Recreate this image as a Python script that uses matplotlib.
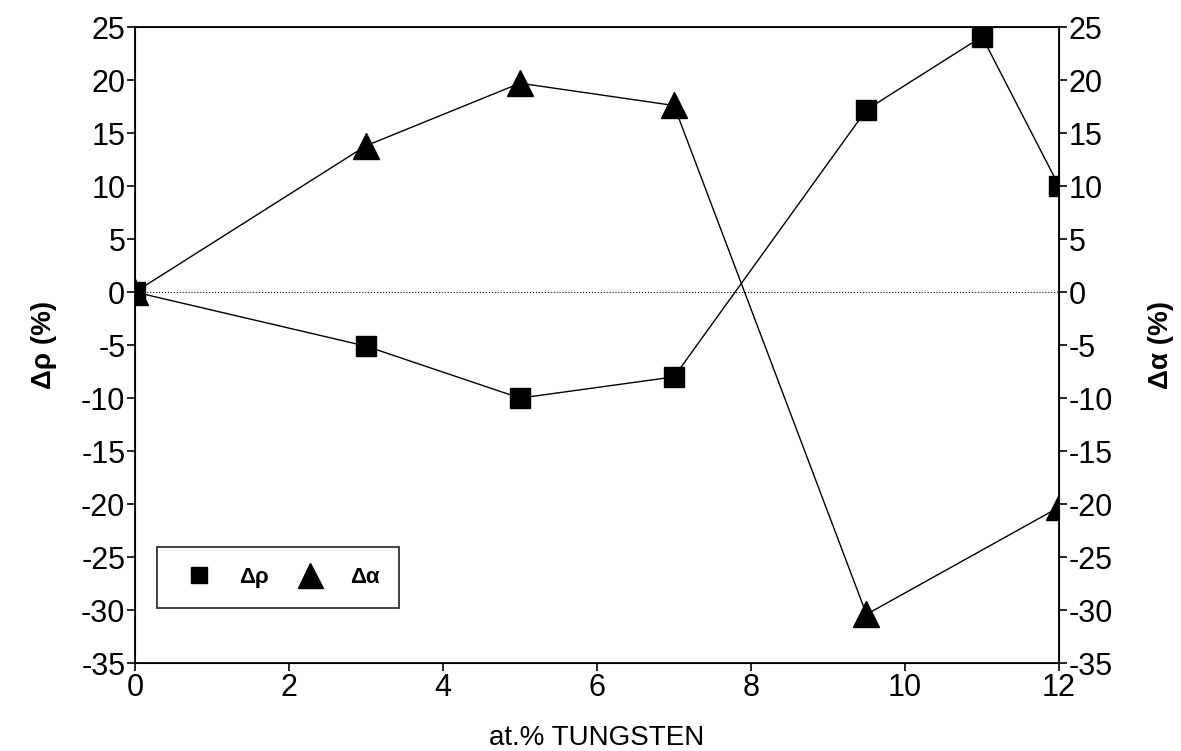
import matplotlib
matplotlib.use("Agg")
import matplotlib.pyplot as plt
from matplotlib.lines import Line2D

plt.rcParams['font.family'] = ['Liberation Sans', 'DejaVu Sans']
plt.rcParams['axes.unicode_minus'] = False

# resistivity change (squares) and second series (triangles)
x_rho = [0, 3, 5, 7, 9.5, 11, 12]
d_rho = [0, -5.1, -10, -8, 17.2, 24.1, 10]
x_alpha = [0, 3, 5, 7, 9.5, 12]
d_alpha = [0, 13.8, 19.7, 17.6, -30.4, -20.3]

xticks = [0, 2, 4, 6, 8, 10, 12]
yticks = list(range(-35, 30, 5))

fig = plt.figure(figsize=(11.81, 7.51), dpi=100)
ax = fig.add_axes([0.1143, 0.117, 0.7824, 0.847])

ax.axhline(0, color='black', lw=0.8, ls=':')
ax.plot(x_rho, d_rho, color='black', lw=1.0, marker='s', ms=14, zorder=3)
ax.plot(x_alpha, d_alpha, color='black', lw=1.0, marker='^', ms=19, zorder=3)

ax.set_xlim(0, 12)
ax.set_ylim(-35, 25)
ax.set_xticks(xticks)
ax.set_yticks(yticks)
ax.tick_params(direction='out', length=6, width=1.2, labelsize=22, pad=1)
for s in ax.spines.values():
    s.set_linewidth(1.3)
ax.set_xlabel('at.% TUNGSTEN', fontsize=20, labelpad=16)
ax.set_ylabel('Δρ (%)', fontsize=20, fontweight='bold', labelpad=17)

ax2 = ax.twinx()
ax2.set_ylim(-35, 25)
ax2.set_yticks(yticks)
ax2.tick_params(direction='out', length=6, width=1.2, labelsize=22, pad=1)
ax2.set_ylabel('Δα (%)', fontsize=20, fontweight='bold', rotation=90, labelpad=25)

handles = [
    Line2D([], [], color='black', marker='s', ls='none', ms=12),
    Line2D([], [], color='black', marker='^', ls='none', ms=18),
]
leg = ax.legend(handles, ['Δρ', 'Δα'], ncol=2, mode='expand',
                bbox_to_anchor=(0.024, 0.087, 0.262, 0.115), loc='lower left',
                frameon=True, fancybox=False, edgecolor='black',
                prop={'size': 16, 'weight': 'bold'}, borderaxespad=0,
                handletextpad=0.8, borderpad=0.9)
leg.get_frame().set_linewidth(1.3)

fig.savefig('out.png', dpi=100)
